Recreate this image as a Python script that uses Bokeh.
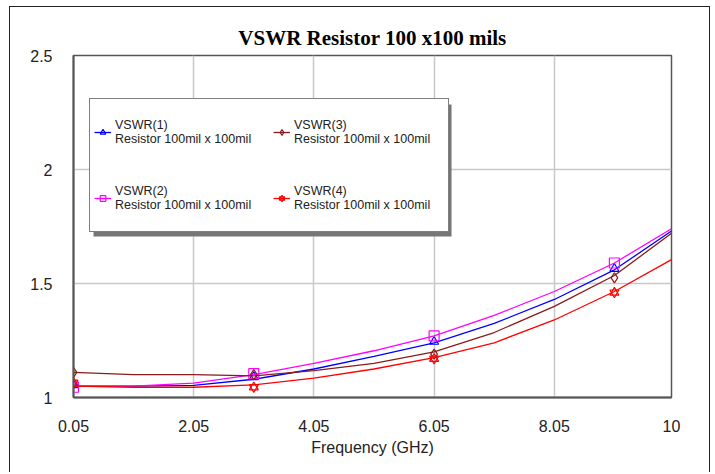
from bokeh.plotting import figure
from bokeh.models import FixedTicker, Legend, LegendItem, BoxAnnotation, Range1d
from bokeh.embed import file_html
from bokeh.resources import INLINE

# ---- data ----
freq = [0.05, 1.05, 2.05, 3.05, 4.05, 5.05, 6.05, 7.05, 8.05, 9.05, 10.0]
vswr1 = [1.05, 1.05, 1.053, 1.08, 1.125, 1.18, 1.24, 1.325, 1.43, 1.56, 1.73]
vswr2 = [1.05, 1.05, 1.063, 1.10, 1.15, 1.205, 1.27, 1.36, 1.465, 1.59, 1.74]
vswr3 = [1.11, 1.10, 1.10, 1.095, 1.118, 1.15, 1.20, 1.285, 1.40, 1.535, 1.72]
vswr4 = [1.05, 1.045, 1.045, 1.055, 1.085, 1.125, 1.175, 1.24, 1.34, 1.465, 1.605]

marker_freq = [0.05, 3.05, 6.05, 9.05]
mk1 = [1.055, 1.09, 1.245, 1.565]
mk2 = [1.045, 1.105, 1.27, 1.59]
mk3 = [1.11, 1.10, 1.19, 1.525]
mk4 = [1.065, 1.045, 1.17, 1.46]

series_names = ["VSWR(1)", "VSWR(2)", "VSWR(3)", "VSWR(4)"]
sub_label = "Resistor 100mil x 100mil"
x_ticks = [0.05, 2.05, 4.05, 6.05, 8.05, 10.0]
x_tick_labels = ["0.05", "2.05", "4.05", "6.05", "8.05", "10"]
y_ticks = [1.0, 1.5, 2.0, 2.5]
y_tick_labels = ["1", "1.5", "2", "2.5"]

colors = ["#0000ff", "#ff00ff", "#8b1a1a", "#ff0000"]

p = figure(width=701, height=466, output_backend="svg", toolbar_location=None,
           x_range=Range1d(0.05, 10.0), y_range=Range1d(1.0, 2.5),
           min_border_left=63, min_border_right=40, min_border_top=48,
           min_border_bottom=76, title="VSWR Resistor 100 x100 mils")
p.styles = {"border": "1px solid #222222", "border-bottom": "none",
            "margin-left": "9px", "margin-top": "6px"}

p.title.align = "center"
p.title.text_font = "Liberation Serif"
p.title.text_font_size = "21px"
p.title.text_font_style = "bold"
p.title.text_color = "#000000"
p.title.standoff = 11

p.background_fill_color = "#ffffff"
p.border_fill_color = "#ffffff"
p.outline_line_color = "#555555"
p.outline_line_width = 1.5

for ax in (p.xaxis[0], p.yaxis[0]):
    ax.axis_line_color = "#555555"
    ax.axis_line_width = 2
    ax.major_tick_line_color = None
    ax.minor_tick_line_color = None
    ax.major_label_text_font = "Liberation Sans"
    ax.major_label_text_font_size = "16px"
    ax.major_label_text_color = "#222222"

p.xaxis.ticker = FixedTicker(ticks=x_ticks)
p.yaxis.ticker = FixedTicker(ticks=y_ticks)
p.xaxis.major_label_overrides = dict(zip(x_ticks, x_tick_labels))
p.yaxis.major_label_overrides = dict(zip(y_ticks, y_tick_labels))
p.xaxis.major_label_standoff = 16
p.yaxis.major_label_standoff = 15
p.xaxis.axis_label = "Frequency (GHz)"
p.xaxis.axis_label_text_font = "Liberation Sans"
p.xaxis.axis_label_text_font_size = "16px"
p.xaxis.axis_label_text_font_style = "normal"
p.xaxis.axis_label_text_color = "#222222"
p.xaxis.axis_label_standoff = 4

p.xgrid.ticker = FixedTicker(ticks=x_ticks)
p.ygrid.ticker = FixedTicker(ticks=y_ticks)
p.grid.grid_line_color = "#c8c8c8"
p.grid.grid_line_width = 1.5

# legend shadow (drawn before the legend)
shadow = BoxAnnotation(left=0.383, right=6.34, bottom=1.706, top=2.285,
                       fill_color="#767676", fill_alpha=1.0, line_color=None)
p.add_layout(shadow)

items = []
lines = [vswr1, vswr2, vswr3, vswr4]
marks = [mk1, mk2, mk3, mk4]
for i in range(4):
    r_line = p.line(freq, lines[i], line_color=colors[i], line_width=1.3)
    rs = [r_line]
    if i == 0:
        rs.append(p.scatter(marker_freq, marks[i], marker="triangle", size=9,
                            fill_color=None, line_color=colors[i], line_width=1.2))
    elif i == 1:
        rs.append(p.scatter(marker_freq, marks[i], marker="square", size=10,
                            fill_color=None, line_color=colors[i], line_width=1.2))
    elif i == 2:
        rs.append(p.scatter(marker_freq, marks[i], marker="diamond", size=10,
                            fill_color=None, line_color=colors[i], line_width=1.2))
    else:
        rs.append(p.scatter(marker_freq, marks[i], marker="triangle", size=9,
                            fill_color=None, line_color=colors[i], line_width=1.2))
        rs.append(p.scatter(marker_freq, marks[i], marker="inverted_triangle", size=9,
                            fill_color=None, line_color=colors[i], line_width=1.2))
    items.append(LegendItem(label=series_names[i] + "\n" + sub_label, renderers=rs))

legend = Legend(items=items, location=(16, 165), nrows=2,
                padding=4, spacing=8, glyph_width=17, glyph_height=14,
                label_standoff=4, label_width=150, label_height=58,
                label_text_font="Liberation Sans", label_text_font_size="12.5px",
                label_text_color="#222222", label_text_line_height=1.5,
                border_line_color="#000000", border_line_width=1.2,
                background_fill_color="#ffffff", background_fill_alpha=1.0)
p.add_layout(legend, "center")

open("out.html", "w").write(file_html(p, INLINE))
